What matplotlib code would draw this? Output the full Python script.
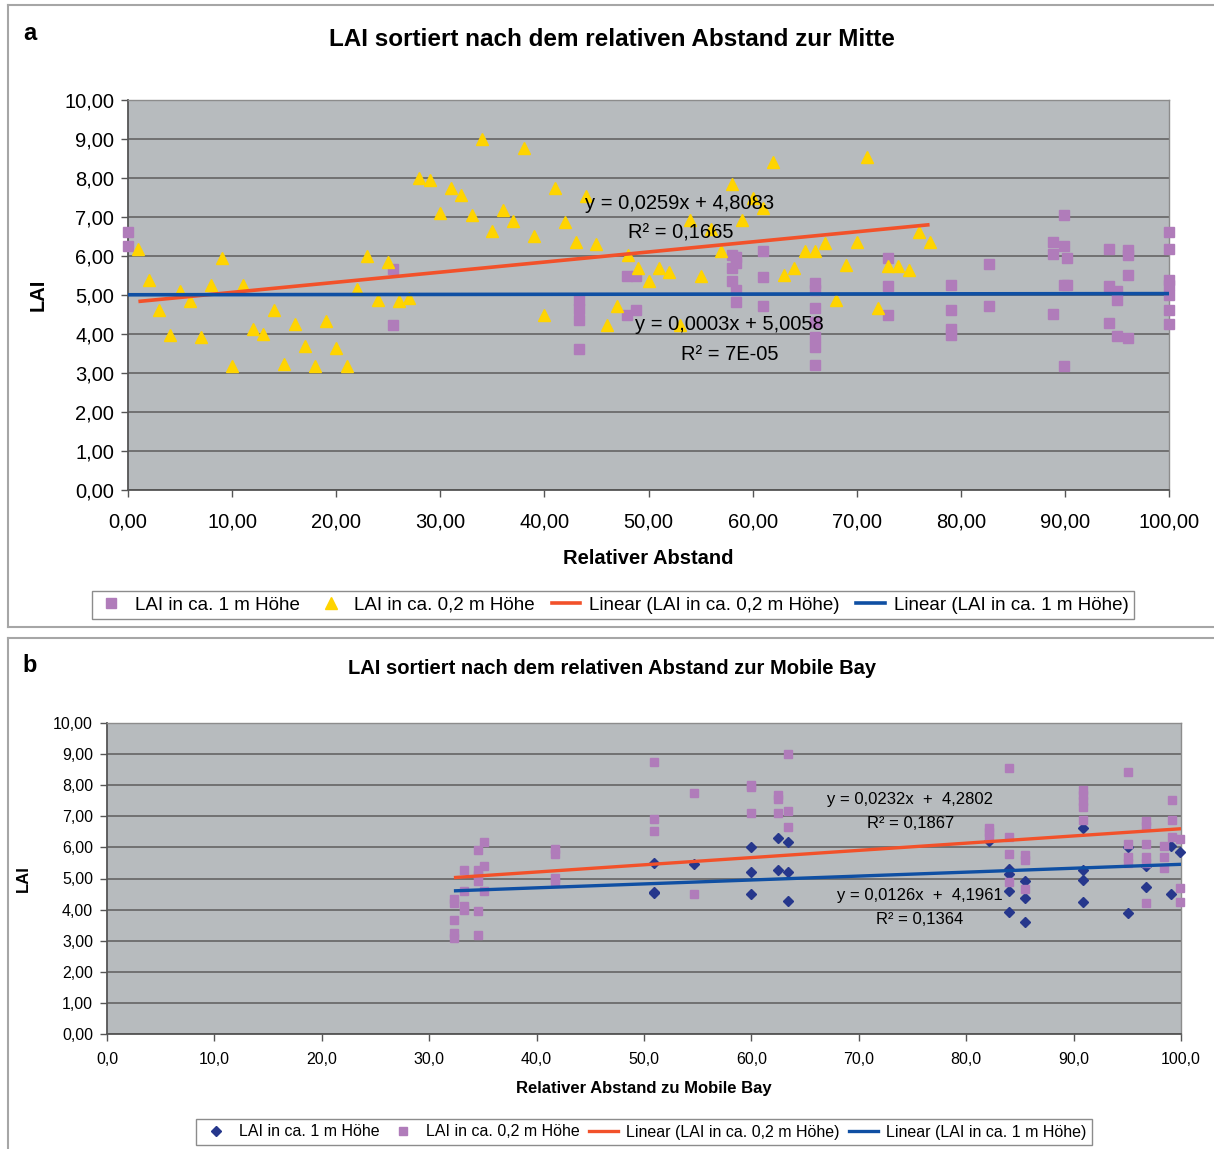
import matplotlib
matplotlib.use("Agg")
import matplotlib.pyplot as plt
from matplotlib.lines import Line2D
from matplotlib.ticker import FuncFormatter, MultipleLocator
import numpy as np

plt.rcParams['font.family'] = ['Liberation Sans', 'DejaVu Sans']

# ---------------- Panel a: LAI vs. relative distance to the centre ----------------
a_low_x = list(range(1, 78))
a_low_y = [6.17, 5.38, 4.62, 3.97, 5.09, 4.85, 3.93, 5.26, 5.94, 3.19,
           5.26, 4.13, 3.99, 4.62, 3.23, 4.26, 3.68, 3.17, 4.33, 3.64,
           3.19, 5.15, 6.00, 4.87, 5.84, 4.85, 4.93, 8.00, 7.94, 7.10,
           7.74, 7.57, 7.06, 9.00, 6.65, 7.17, 6.91, 8.78, 6.52, 4.49,
           7.74, 6.88, 6.36, 7.55, 6.30, 4.23, 4.72, 6.02, 5.68, 5.36,
           5.68, 5.58, 4.23, 6.92, 5.49, 6.69, 6.13, 7.84, 6.92, 7.50,
           7.22, 8.42, 5.52, 5.68, 6.13, 6.13, 6.34, 4.87, 5.78, 6.36,
           8.55, 4.66, 5.75, 5.75, 5.65, 6.61, 6.36]

a_high_x = [0, 0, 25.5, 25.5, 43.3, 43.3, 43.3, 43.3, 47.9, 47.9, 48.8, 48.8,
            58.0, 58.0, 58.0, 58.4, 58.4, 58.4, 58.4, 61.0, 61.0, 61.0,
            66.0, 66.0, 66.0, 66.0, 66.0, 66.0, 66.0, 73.0, 73.0, 73.0,
            79.1, 79.1, 79.1, 79.1, 82.7, 82.7, 88.9, 88.9, 88.9,
            89.9, 89.9, 89.9, 89.9, 90.2, 90.2, 94.2, 94.2, 94.2,
            95.0, 95.0, 95.0, 96.1, 96.1, 96.1, 96.1,
            100, 100, 100, 100, 100, 100, 100]
a_high_y = [6.61, 6.25, 5.66, 4.23, 4.87, 4.64, 4.36, 3.61, 5.49, 4.49, 5.49, 4.62,
            6.02, 5.68, 5.36, 5.98, 5.81, 5.13, 4.83, 6.13, 5.47, 4.72,
            5.30, 5.13, 4.66, 4.30, 3.93, 3.66, 3.21, 5.96, 5.23, 4.49,
            5.26, 4.62, 4.13, 3.98, 5.80, 4.73, 6.36, 6.04, 4.51,
            7.06, 6.25, 5.26, 3.18, 5.94, 5.26, 6.17, 5.23, 4.29,
            5.09, 4.87, 3.95, 6.15, 6.02, 5.51, 3.91,
            6.61, 6.17, 5.38, 5.26, 5.00, 4.62, 4.26]

# trend lines as reported: slope, intercept, R², x-range
a_low_fit = (0.0259, 4.8083, "0,1665", (1, 77))
a_high_fit = (0.0003, 5.0058, "7E-05", (0, 100))

# ---------------- Panel b: LAI vs. relative distance to Mobile Bay ----------------
b_high_x = [50.9, 50.9, 50.9, 54.7, 60.0, 60.0, 60.0, 62.5, 62.5,
            63.4, 63.4, 63.4, 82.1, 84.0, 84.0, 84.0, 84.0,
            85.5, 85.5, 85.5, 90.9, 90.9, 90.9, 90.9, 95.1, 95.1,
            96.7, 96.7, 99.1, 99.1, 99.9]
b_high_y = [5.49, 4.58, 4.53, 5.47, 6.00, 5.22, 4.50, 6.29, 5.26,
            6.16, 5.22, 4.29, 6.19, 5.30, 5.15, 4.61, 3.93,
            4.91, 4.37, 3.61, 6.62, 5.26, 4.96, 4.25, 6.00, 3.89,
            5.39, 4.74, 6.03, 4.50, 5.84]

b_low_x = [32.3, 32.3, 32.3, 32.3, 32.3, 33.2, 33.2, 33.2, 33.2,
           34.5, 34.5, 34.5, 34.5, 34.5, 34.5, 35.1, 35.1, 35.1,
           41.7, 41.7, 41.7, 41.7, 50.9, 50.9, 50.9, 54.7, 54.7,
           60.0, 60.0, 60.0, 62.5, 62.5, 62.5, 63.4, 63.4, 63.4,
           82.1, 82.1, 82.1, 84.0, 84.0, 84.0, 84.0, 85.5, 85.5, 85.5,
           90.9, 90.9, 90.9, 90.9, 90.9, 95.1, 95.1, 95.1, 95.1,
           96.7, 96.7, 96.7, 96.7, 96.7, 96.7, 98.4, 98.4, 98.4,
           99.2, 99.2, 99.2, 99.9, 99.9, 99.9]
b_low_y = [4.35, 4.20, 3.67, 3.25, 3.10, 5.26, 4.61, 4.12, 4.00,
           5.92, 5.26, 5.10, 4.92, 3.94, 3.19, 6.16, 5.39, 4.61,
           5.95, 5.80, 5.02, 4.85, 8.75, 6.92, 6.52, 7.74, 4.51,
           8.02, 7.93, 7.10, 7.70, 7.55, 7.10, 9.00, 7.18, 6.65,
           6.62, 6.50, 6.35, 8.55, 6.33, 5.78, 4.88, 5.75, 5.60, 4.66,
           7.85, 7.70, 7.50, 7.30, 6.89, 8.44, 6.11, 5.70, 5.50,
           6.85, 6.70, 6.11, 5.70, 5.50, 4.21, 6.03, 5.69, 5.33,
           7.53, 6.89, 6.35, 6.26, 4.69, 4.25]

b_low_fit = (0.0232, 4.2802, "0,1867", (32.3, 100))
b_high_fit = (0.0126, 4.1961, "0,1364", (32.3, 100))

# ---------------- styling ----------------
PLOT_BG = "#b7bbbe"
GRID = "#6b6b6b"
PURPLE = "#b07cba"
YELLOW = "#ffd400"
NAVY = "#26378c"
RED = "#f2512a"
BLUE = "#0f4fa3"
FRAME = "#a6a6a6"

W, H = 1214, 1149
fig = plt.figure(figsize=(W / 100, H / 100), dpi=100)
fig.patch.set_facecolor("white")


def fx(px):
    return px / W


def fy(py):
    return 1 - py / H


def fmt_dec(n):
    return FuncFormatter(lambda v, p: f"{v:.{n}f}".replace(".", ","))


def trend(ax, fit, color, lw):
    m, b, _, (x0, x1) = fit
    xs = np.array([x0, x1])
    ax.plot(xs, m * xs + b, color=color, lw=lw, solid_capstyle="butt", zorder=4)


def style_axes(ax, tick_fs, xdec, xpad):
    ax.set_facecolor(PLOT_BG)
    ax.set_xlim(0, 100)
    ax.set_ylim(0, 10)
    ax.xaxis.set_major_locator(MultipleLocator(10))
    ax.yaxis.set_major_locator(MultipleLocator(1))
    ax.xaxis.set_major_formatter(fmt_dec(xdec))
    ax.yaxis.set_major_formatter(fmt_dec(2))
    ax.grid(axis="y", color=GRID, lw=1.3)
    ax.set_axisbelow(True)
    for s in ("top", "right"):
        ax.spines[s].set_color("#8c8c8c")
        ax.spines[s].set_linewidth(1.0)
    for s in ("left", "bottom"):
        ax.spines[s].set_color("#555555")
        ax.spines[s].set_linewidth(1.3)
    ax.tick_params(axis="both", direction="out", length=5, width=1,
                   color="#555555", labelsize=tick_fs, labelcolor="black")
    ax.tick_params(axis="x", pad=xpad)
    ax.tick_params(axis="y", pad=5)


# ---------- panel a ----------
axa = fig.add_axes([fx(128), fy(490), fx(1169 - 128), (490 - 100) / H])
style_axes(axa, 14.5, 2, 11)
axa.plot(a_high_x, a_high_y, ls="none", marker="s", ms=6.6, mfc=PURPLE,
         mec=PURPLE, clip_on=False, zorder=3, label="LAI in ca. 1 m Höhe")
axa.plot(a_low_x, a_low_y, ls="none", marker="^", ms=8, mfc=YELLOW,
         mec=YELLOW, clip_on=False, zorder=3, label="LAI in ca. 0,2 m Höhe")
trend(axa, a_low_fit, RED, 2.6)
trend(axa, a_high_fit, BLUE, 2.6)
axa.set_xlabel("Relativer Abstand", fontsize=14.5, fontweight="bold", labelpad=13)
axa.set_ylabel("LAI", fontsize=14.5, fontweight="bold", labelpad=12)
axa.text(53.0, 7.35, f"y = {a_low_fit[0]:.4f}x + {a_low_fit[1]:.4f}".replace(".", ","),
         fontsize=14.5, ha="center", va="center", zorder=6)
axa.text(53.1, 6.58, f"R² = {a_low_fit[2]}", fontsize=14.5, ha="center", va="center", zorder=6)
axa.text(57.8, 4.24, f"y = {a_high_fit[0]:.4f}x + {a_high_fit[1]:.4f}".replace(".", ","),
         fontsize=14.5, ha="center", va="center", zorder=6)
axa.text(57.8, 3.47, f"R² = {a_high_fit[2]}", fontsize=14.5, ha="center", va="center", zorder=6)

leg_a = [
    Line2D([], [], ls="none", marker="s", ms=6.6, mfc=PURPLE, mec=PURPLE),
    Line2D([], [], ls="none", marker="^", ms=8, mfc=YELLOW, mec=YELLOW),
    Line2D([], [], color=RED, lw=2.6),
    Line2D([], [], color=BLUE, lw=2.6),
]
fig.legend(leg_a, ["LAI in ca. 1 m Höhe", "LAI in ca. 0,2 m Höhe",
                   "Linear (LAI in ca. 0,2 m Höhe)", "Linear (LAI in ca. 1 m Höhe)"],
           loc="center", bbox_to_anchor=(fx(613), fy(605)), ncol=4, fontsize=13.5,
           frameon=True, fancybox=False, edgecolor="#8c8c8c", framealpha=1,
           handlelength=1.5, handletextpad=0.5, columnspacing=0.9,
           borderpad=0.3)

fig.text(fx(30), fy(33), "a", fontsize=17, fontweight="bold", ha="center", va="center")
fig.text(fx(612), fy(40), "LAI sortiert nach dem relativen Abstand zur Mitte",
         fontsize=17.5, fontweight="bold", ha="center", va="center")

# ---------- panel b ----------
axb = fig.add_axes([fx(107), fy(1034), fx(1181 - 107), (1034 - 723) / H])
style_axes(axb, 11.5, 1, 8)
axb.plot(b_high_x, b_high_y, ls="none", marker="D", ms=5.2, mfc=NAVY,
         mec=NAVY, clip_on=False, zorder=3, label="LAI in ca. 1 m Höhe")
axb.plot(b_low_x, b_low_y, ls="none", marker="s", ms=6.3, mfc=PURPLE,
         mec=PURPLE, clip_on=False, zorder=3, label="LAI in ca. 0,2 m Höhe")
trend(axb, b_low_fit, RED, 2.4)
trend(axb, b_high_fit, BLUE, 2.4)
axb.set_xlabel("Relativer Abstand zu Mobile Bay", fontsize=12, fontweight="bold", labelpad=10)
axb.set_ylabel("LAI", fontsize=12, fontweight="bold", labelpad=16)
axb.text(74.8, 7.54, f"y = {b_low_fit[0]:.4f}x  +  {b_low_fit[1]:.4f}".replace(".", ","),
         fontsize=12, ha="center", va="center", zorder=6)
axb.text(74.8, 6.77, f"R² = {b_low_fit[2]}", fontsize=12, ha="center", va="center", zorder=6)
axb.text(75.7, 4.45, f"y = {b_high_fit[0]:.4f}x  +  {b_high_fit[1]:.4f}".replace(".", ","),
         fontsize=12, ha="center", va="center", zorder=6)
axb.text(75.7, 3.68, f"R² = {b_high_fit[2]}", fontsize=12, ha="center", va="center", zorder=6)

leg_b = [
    Line2D([], [], ls="none", marker="D", ms=5.2, mfc=NAVY, mec=NAVY),
    Line2D([], [], ls="none", marker="s", ms=6.3, mfc=PURPLE, mec=PURPLE),
    Line2D([], [], color=RED, lw=2.4),
    Line2D([], [], color=BLUE, lw=2.4),
]
fig.legend(leg_b, ["LAI in ca. 1 m Höhe", "LAI in ca. 0,2 m Höhe",
                   "Linear (LAI in ca. 0,2 m Höhe)", "Linear (LAI in ca. 1 m Höhe)"],
           loc="center", bbox_to_anchor=(fx(644), fy(1132)), ncol=4, fontsize=11.5,
           frameon=True, fancybox=False, edgecolor="#8c8c8c", framealpha=1,
           handlelength=1.8, handletextpad=0.5, columnspacing=0.6,
           borderpad=0.35)

fig.text(fx(30), fy(665), "b", fontsize=17, fontweight="bold", ha="center", va="center")
fig.text(fx(612), fy(668), "LAI sortiert nach dem relativen Abstand zur Mobile Bay",
         fontsize=14.5, fontweight="bold", ha="center", va="center")

# ---------- panel frames ----------
for xs, ys in [((8, 8), (5, 627)), ((8, W), (5, 5)), ((8, W), (627, 627)),
               ((8, 8), (638, H)), ((8, W), (638, 638))]:
    fig.add_artist(Line2D([fx(x) for x in xs], [fy(y) for y in ys],
                          color=FRAME, lw=1.5, transform=fig.transFigure))

fig.savefig("out.png", dpi=100)
